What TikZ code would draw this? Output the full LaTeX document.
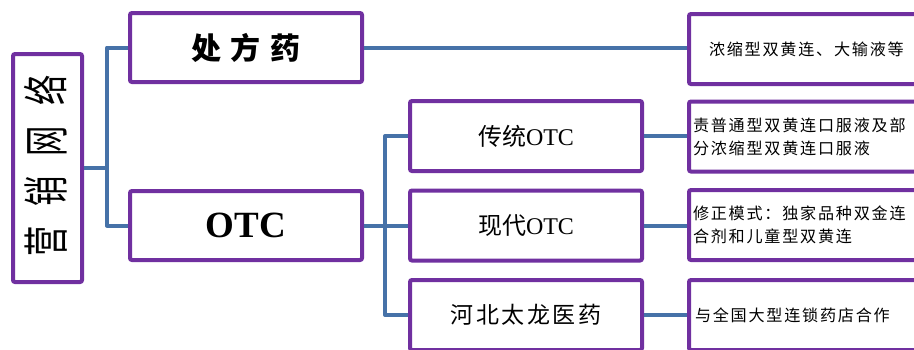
\documentclass[tikz,border=0pt]{standalone}
\usepackage{graphicx}
\usepackage{fontspec}
\setmainfont{Liberation Serif}
\newfontfamily\cjk{Noto Sans CJK SC}
\newfontfamily\cjks[LetterSpace=11]{Noto Sans CJK SC}
\definecolor{boxpurple}{HTML}{7030A0}
\definecolor{linkblue}{HTML}{4672A8}
\begin{document}
\begin{tikzpicture}[x=1pt,y=-1pt,
  box/.style={draw=boxpurple, line width=4pt, rounded corners=2pt, fill=white, inner sep=0pt},
  link/.style={draw=linkblue, line width=4pt},
  midbox/.style={box, minimum width=232pt, minimum height=70pt, font=\fontsize{24}{24}\selectfont},
  rightbox/.style={box, minimum width=240pt, minimum height=70pt, text width=232pt, inner xsep=4pt, align=left, font=\cjks\fontsize{16.1}{23}\selectfont}]
\useasboundingbox (0,0) rectangle (914,349);
\clip (0,0) rectangle (914,349);
\fill[white] (0,0) rectangle (914,349);

% boxes
\node[box, minimum width=69pt, minimum height=228pt] (root) at (47.5,168) {};
\node[rotate=90, font=\cjk\fontsize{46}{46}\selectfont] (roott) at (46,166)
  {\scalebox{0.66}[1]{营\hspace{30pt}销\hspace{30pt}网\hspace{30pt}络}};

\node[box, minimum width=232pt, minimum height=69pt, font=\cjk\bfseries\fontsize{30}{30}\selectfont] (rx) at (246,47.5)
  {处\hspace{10pt}方\hspace{10pt}药};
\node[box, minimum width=232pt, minimum height=69pt, font=\bfseries\fontsize{37}{37}\selectfont] (otc) at (246,225.5) {OTC};

\node[midbox] (m1) at (526,136) {{\cjk 传统}OTC};
\node[midbox] (m2) at (526,225.5) {{\cjk 现代}OTC};
\node[midbox, font=\cjk\fontsize{23}{23}\selectfont] (m3) at (526,315)
  {河\hspace{2.6pt}北\hspace{2.6pt}太\hspace{2.6pt}龙\hspace{2.6pt}医\hspace{2.6pt}药};

\node[rightbox] (r1) at (809,49) {\hspace*{16pt}浓缩型双黄连、大输液等};
\node[rightbox] (r2) at (809,136.5) {责普通型双黄连口服液及部\\分浓缩型双黄连口服液};
\node[rightbox] (r3) at (809,225) {修正模式：独家品种双金连\\合剂和儿童型双黄连};
\node[rightbox] (r4) at (809,315) {\hspace*{2pt}与全国大型连锁药店合作};

% connectors
\coordinate (j1) at (107,168);
\coordinate (j2) at (385,225.5);
\draw[link] (root.east) -- (j1);
\draw[link, line join=round] (j1) |- (rx.west);
\draw[link, line join=round] (j1) |- (otc.west);
\draw[link] (rx.east) -- (rx.east -| r1.west);
\draw[link] (otc.east) -- (j2);
\draw[link, line join=round] (j2) |- (m1.west);
\draw[link] (j2) -- (m2.west);
\draw[link, line join=round] (j2) |- (m3.west);
\draw[link] (m1.east) -- (m1.east -| r2.west);
\draw[link] (m2.east) -- (m2.east -| r3.west);
\draw[link] (m3.east) -- (m3.east -| r4.west);
\end{tikzpicture}
\end{document}
